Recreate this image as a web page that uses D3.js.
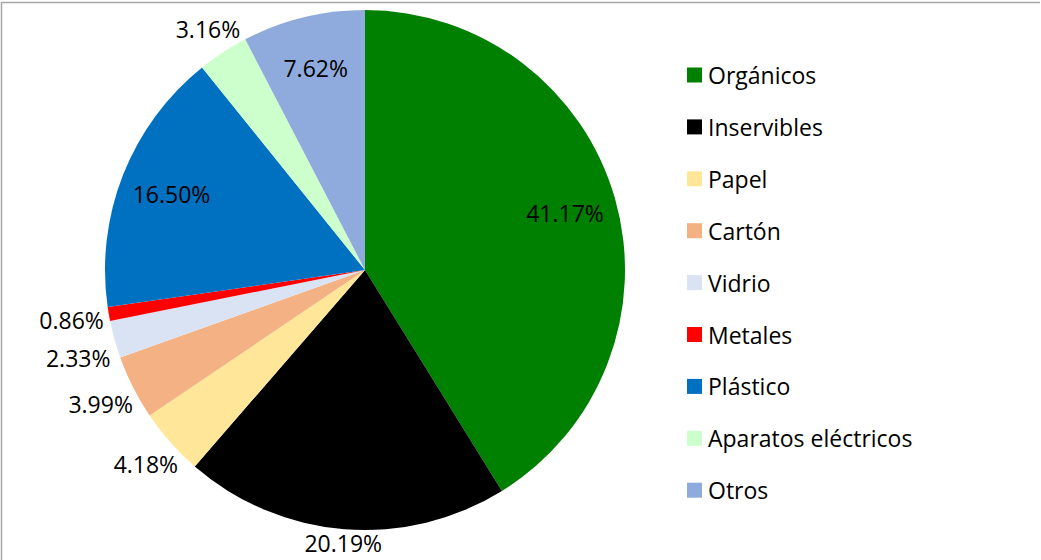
<!DOCTYPE html>
<html>
<head>
<meta charset="utf-8">
<script src="https://cdn.jsdelivr.net/npm/d3@7"></script>
<style>
  body { margin: 0; background: #fff; }
  svg text { font-family: "Open Sans", sans-serif; fill: #000; }
</style>
</head>
<body>
<div id="chart"></div>
<script>
// data
var categories = ["Orgánicos", "Inservibles", "Papel", "Cartón", "Vidrio", "Metales", "Plástico", "Aparatos eléctricos", "Otros"];
var values = [41.17, 20.19, 4.18, 3.99, 2.33, 0.86, 16.50, 3.16, 7.62];
var colors = ["#008000", "#000000", "#FFE699", "#F4B183", "#DAE3F3", "#FF0000", "#0070C0", "#CCFFCC", "#8FAADC"];

var width = 1041, height = 560;
var cx = 365, cy = 270, radius = 260;

var svg = d3.select("#chart").append("svg")
    .attr("width", width)
    .attr("height", height);

// chart area border (only top and left show in the crop)
svg.append("path")
    .attr("d", "M1.5,560 V2.5 H1040")
    .attr("fill", "none")
    .attr("stroke", "#a6a6a6")
    .attr("stroke-width", 1.5);

var data = categories.map(function(c, i) { return {name: c, value: values[i], color: colors[i]}; });

var pie = d3.pie().sort(null).value(function(d) { return d.value; });
var arc = d3.arc().innerRadius(0).outerRadius(radius);
var arcs = pie(data);

var g = svg.append("g").attr("transform", "translate(" + cx + "," + cy + ")");

g.selectAll("path.slice")
    .data(arcs)
  .enter().append("path")
    .attr("class", "slice")
    .attr("d", arc)
    .attr("fill", function(d) { return d.data.color; });

var fontSize = 23;
var fmt = function(v) { return v.toFixed(2) + "%"; };

// labels: big light slices get the label inside, the rest outside
var outside = [];
arcs.forEach(function(d) {
    var mid = (d.startAngle + d.endAngle) / 2;
    var s = Math.sin(mid), c = Math.cos(mid);
    var inside = d.data.value > 5 && d.data.color !== "#000000";
    var t = g.append("text")
        .style("font-size", fontSize + "px")
        .attr("text-anchor", "middle")
        .attr("dominant-baseline", "central")
        .text(fmt(d.data.value));
    if (inside) {
        var rr = radius * 0.8;
        t.attr("x", s * rr).attr("y", -c * rr);
    } else {
        // push the label centre out so its box clears the rim
        var w = t.node().getBBox().width, h = fontSize * 0.5;
        var ro = radius + 5 + Math.abs(s) * w / 2 + Math.abs(c) * h / 2;
        outside.push({t: t, x: s * ro, y: -c * ro, left: s < 0});
    }
});

// keep the stacked left-hand labels from crowding each other
var minGap = 38;
var leftSide = outside.filter(function(o) { return o.left; })
    .sort(function(a, b) { return a.y - b.y; });
for (var i = 1; i < leftSide.length; i++) {
    if (leftSide[i].y - leftSide[i - 1].y < minGap) leftSide[i].y = leftSide[i - 1].y + minGap;
}
outside.forEach(function(o) { o.t.attr("x", o.x).attr("y", o.y); });

// legend
var legend = svg.append("g").attr("transform", "translate(687,75)");
var item = legend.selectAll("g.item")
    .data(data)
  .enter().append("g")
    .attr("class", "item")
    .attr("transform", function(d, i) { return "translate(0," + (i * 51.9) + ")"; });

item.append("rect")
    .attr("x", 0).attr("y", -7.5)
    .attr("width", 15).attr("height", 15)
    .attr("fill", function(d) { return d.color; });

item.append("text")
    .attr("x", 21)
    .attr("y", 0)
    .attr("dominant-baseline", "central")
    .style("font-size", fontSize + "px")
    .text(function(d) { return d.name; });
</script>
</body>
</html>
